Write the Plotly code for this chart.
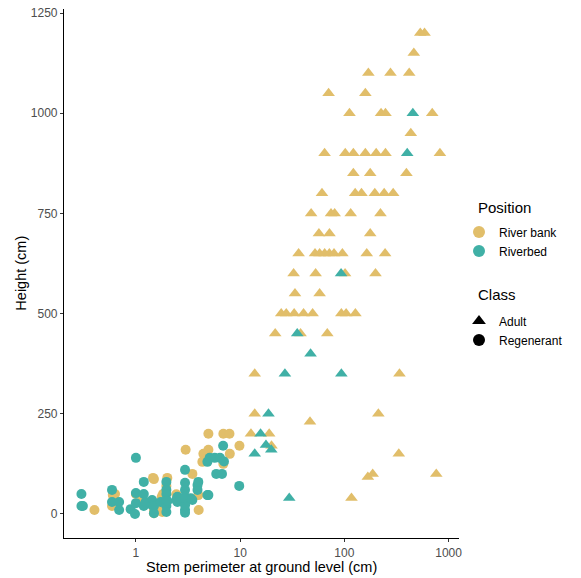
import plotly.graph_objects as go

# ---- Data (Stem perimeter cm, Height cm) ----
bank_adult_x = [535, 588, 464, 170, 277, 419, 70.6, 159, 112, 225, 248, 697, 434,
                64.6, 102, 122, 159, 202, 248, 826, 122, 177, 394,
                61, 127, 146, 196, 241, 294, 48, 74.5, 80.7, 115, 222,
                57, 72, 177, 36.4, 52.3, 57.9, 64.7, 71.8, 79.6, 95.7, 164, 246,
                32.6, 53, 101.6, 199, 33.6, 57.9,
                24.8, 27.7, 33, 40.6, 49.6, 93.6, 104, 127.6,
                21.7, 38, 68.6, 13.8, 338, 13.8, 212, 46.8, 12.7, 19, 20,
                333, 187, 762, 168, 117]
bank_adult_y = [1200, 1200, 1150, 1100, 1100, 1100, 1050, 1050, 1000, 1000, 1000, 1000, 950,
                900, 900, 900, 900, 900, 900, 900, 850, 850, 850,
                800, 800, 800, 800, 800, 800, 750, 750, 750, 750, 750,
                700, 700, 700, 650, 650, 650, 650, 650, 650, 650, 650, 650,
                600, 600, 600, 600, 550, 550,
                500, 500, 500, 500, 500, 500, 500, 500,
                450, 450, 450, 350, 350, 250, 250, 230, 200, 200, 170,
                150, 100, 100, 92, 40]

bed_adult_x = [454, 401, 93, 35.3, 47.4, 26.9, 93.6, 18.7, 15.7, 17.7, 19.9, 13.8, 29.6]
bed_adult_y = [1000, 900, 600, 450, 400, 350, 350, 250, 200, 172, 160, 150, 40]

bank_regen_x = [4.96, 6.9, 7.9, 9.85, 3.0, 4.96, 4.44, 7.96, 4.34, 6.9, 3.48,
                1.46, 2.0, 1.49, 1.96, 0.63, 1.0, 1.82, 2.44, 3.97, 1.15, 1.77,
                0.40, 1.49, 1.73, 4.0, 0.59, 1.79, 1.17, 1.49, 0.6]
bank_regen_y = [200, 200, 200, 170, 160, 160, 150, 150, 130, 125, 100,
                90, 90, 87, 70, 50, 50, 50, 49, 47, 43, 43,
                10, 10, 10, 10, 20, 5, 35, 2, 47]

bed_regen_x = [0.30, 0.30, 0.31, 0.59, 0.59, 0.69, 0.69, 0.89, 0.98,
               1.0, 1.0, 1.0, 1.19, 1.19, 1.19, 1.24, 1.43, 1.43, 1.49, 1.49, 1.73,
               1.96, 1.96, 1.96, 1.96, 1.96, 1.96, 2.0, 2.44, 2.5, 2.5,
               2.96, 2.96, 2.96, 2.96, 2.96, 2.96, 2.96, 2.96, 2.96,
               3.36, 3.48, 3.9, 3.9, 3.97, 4.85, 4.96, 4.85,
               5.1, 5.7, 6.4, 7.0, 5.9, 6.7, 6.87, 9.8]
bed_regen_y = [50, 20, 20, 60, 30, 30, 10, 12, 0,
               140, 52, 27, 80, 50, 20, 30, 35, 22, 2, 20, 30,
               80, 60, 50, 35, 20, 5, 32, 35, 43, 30,
               110, 78, 60, 43, 27, 10, 3, 22, 39,
               39, 35, 72, 60, 80, 130, 47, 47,
               140, 140, 140, 131, 100, 100, 170, 70]

positions = ["River bank", "Riverbed"]
classes = ["Adult", "Regenerant"]

GOLD = "#E1BE6A"
TEAL = "#40B0A6"

fig = go.Figure()

def add(xs, ys, color, symbol, size):
    fig.add_trace(go.Scatter(
        x=xs, y=ys, mode="markers", showlegend=False,
        marker=dict(color=color, symbol=symbol, size=size, line=dict(width=0)),
        hoverinfo="x+y"))

add(bank_regen_x, bank_regen_y, GOLD, "circle", 10)
add(bed_regen_x, bed_regen_y, TEAL, "circle", 10)
add(bank_adult_x, bank_adult_y, GOLD, "triangle-up", 11)
add(bed_adult_x, bed_adult_y, TEAL, "triangle-up", 11)

# legend entries: Position -> legend, Class -> legend2
for name, col in zip(positions, [GOLD, TEAL]):
    fig.add_trace(go.Scatter(
        x=[None], y=[None], mode="markers", name=name, legend="legend",
        marker=dict(color=col, symbol="circle", size=10)))
for name, sym in zip(classes, ["triangle-up", "circle"]):
    fig.add_trace(go.Scatter(
        x=[None], y=[None], mode="markers", name=name, legend="legend2",
        marker=dict(color="black", symbol=sym, size=10)))

axis_common = dict(
    showgrid=False, zeroline=False, showline=True, linecolor="black", linewidth=1.2,
    ticks="outside", ticklen=3, tickcolor="#333333", tickwidth=1.1,
    tickfont=dict(size=12, color="#4D4D4D"), mirror=False, automargin=False,
)

leg_common = dict(xanchor="left", yanchor="middle", font=dict(size=12, color="black"),
                  itemsizing="constant", bgcolor="rgba(0,0,0,0)", x=1.0)

fig.update_layout(
    width=581, height=578,
    margin=dict(l=64, r=122, t=9, b=40),
    plot_bgcolor="white", paper_bgcolor="white",
    font=dict(family="Liberation Sans, Arial, sans-serif", color="black"),
    xaxis=dict(type="log", range=[-0.69, 3.10],
               tickvals=[1, 10, 100, 1000], ticktext=["1", "10", "100", "1000"],
               **axis_common),
    yaxis=dict(range=[-60, 1260], tickvals=[0, 250, 500, 750, 1000, 1250],
               **axis_common),
    legend=dict(y=0.5605, **leg_common),
    legend2=dict(y=0.3922, **leg_common),
    annotations=[
        dict(text="Stem perimeter at ground level (cm)", xref="paper", yref="paper",
             x=0.5, y=-0.0555, xanchor="center", yanchor="middle", showarrow=False,
             font=dict(size=14.5, color="black")),
        dict(text="Height (cm)", xref="paper", yref="paper", textangle=-90,
             x=-0.111, y=0.5, xanchor="center", yanchor="middle", showarrow=False,
             font=dict(size=14.5, color="black")),
        dict(text="Position", xref="paper", yref="paper",
             x=1.043, y=0.6257, xanchor="left", yanchor="middle", showarrow=False,
             font=dict(size=15, color="black")),
        dict(text="Class", xref="paper", yref="paper",
             x=1.043, y=0.4594, xanchor="left", yanchor="middle", showarrow=False,
             font=dict(size=15, color="black")),
    ],
)

fig.write_html("out.html", config={"displayModeBar": False},
               post_script="document.body.style.margin='0';")
